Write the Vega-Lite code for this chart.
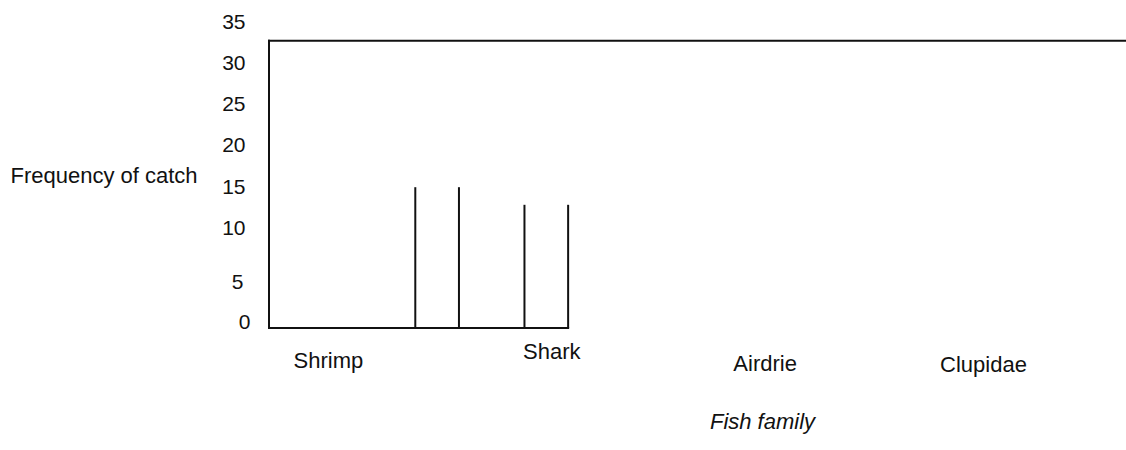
{
  "$schema": "https://vega.github.io/schema/vega-lite/v6.json",
  "width": 857,
  "height": 308,
  "autosize": {"type": "none"},
  "padding": {"left": 269, "top": 20, "right": 0, "bottom": 122},
  "background": "white",
  "config": {"view": {"stroke": null}, "font": "Liberation Sans"},
  "datasets": {
    "bars": [
      {"family": "Shrimp", "left": 1.4, "right": 1.6, "frequency": 16},
      {"family": "Shark", "left": 1.9, "right": 2.1, "frequency": 14}
    ],
    "one": [{}]
  },
  "layer": [
    {
      "data": {"name": "bars"},
      "mark": {"type": "rule", "strokeWidth": 2, "color": "#111111"},
      "encoding": {
        "x": {
          "field": "left", "type": "quantitative",
          "scale": {"domain": [0.73, 4.655], "nice": false, "zero": false},
          "axis": {
            "values": [1, 2, 3, 4],
            "labelExpr": "['','Shrimp','Shark','Airdrie','Clupidae'][datum.value]",
            "domain": false, "ticks": false, "grid": false,
            "labelFont": "Liberation Sans", "labelFontSize": 22, "labelColor": "#111111",
            "labelBaseline": "alphabetic", "labelFlush": false, "labelOverlap": false, "labelBound": false,
            "labelPadding": {"condition": [
              {"test": "datum.value === 2", "value": 30},
              {"test": "datum.value === 3", "value": 42},
              {"test": "datum.value === 4", "value": 43.5}
            ], "value": 39.5},
            "labelOffset": {"condition": {"test": "datum.value === 2", "value": 5}, "value": 0},
            "title": "Fish family",
            "titleFont": "Liberation Sans", "titleFontStyle": "italic", "titleFontWeight": "normal",
            "titleFontSize": 22, "titleColor": "#111111",
            "titleX": 493, "titleY": 100, "titleAlign": "center", "titleBaseline": "alphabetic"
          }
        },
        "y": {
          "field": "frequency", "type": "quantitative",
          "scale": {"domain": [0, 35], "nice": false, "zero": true},
          "axis": {
            "values": [0, 5, 10, 15, 20, 25, 30, 35],
            "domain": false, "ticks": false, "grid": false,
            "labelFont": "Liberation Sans", "labelFontSize": 21, "labelColor": "#111111",
            "labelBaseline": "middle", "labelAlign": "right", "labelFlush": false, "labelOverlap": false, "labelBound": false,
            "labelPadding": {"condition": [
              {"test": "datum.value === 0", "value": 19},
              {"test": "datum.value === 5", "value": 26}
            ], "value": 24},
            "labelOffset": {"condition": [
              {"test": "datum.value === 35", "value": 2.5},
              {"test": "datum.value === 30", "value": -1},
              {"test": "datum.value === 25", "value": -4},
              {"test": "datum.value === 20", "value": -6.5},
              {"test": "datum.value === 15", "value": -9},
              {"test": "datum.value === 10", "value": -12},
              {"test": "datum.value === 5", "value": -2},
              {"test": "datum.value === 0", "value": -5.5}
            ], "value": 0},
            "title": "Frequency of catch",
            "titleFont": "Liberation Sans", "titleFontWeight": "normal", "titleFontSize": 22, "titleColor": "#111111",
            "titleAngle": 0, "titleAlign": "left", "titleBaseline": "middle",
            "titleX": -259, "titleY": 155
          }
        },
        "y2": {"datum": 0}
      }
    },
    {
      "data": {"name": "bars"},
      "mark": {"type": "rule", "strokeWidth": 2, "color": "#111111"},
      "encoding": {
        "x": {"field": "right", "type": "quantitative"},
        "y": {"field": "frequency", "type": "quantitative"},
        "y2": {"datum": 0}
      }
    },
    {
      "data": {"name": "one"},
      "mark": {"type": "rule", "strokeWidth": 2, "color": "#111111", "strokeCap": "square"},
      "encoding": {
        "x": {"datum": 0.73, "type": "quantitative"},
        "y": {"datum": 0, "type": "quantitative"},
        "y2": {"datum": 32.65}
      }
    },
    {
      "data": {"name": "one"},
      "mark": {"type": "rule", "strokeWidth": 2, "color": "#111111", "strokeCap": "square"},
      "encoding": {
        "x": {"datum": 0.73, "type": "quantitative"},
        "x2": {"datum": 4.655},
        "y": {"datum": 32.65, "type": "quantitative"}
      }
    },
    {
      "data": {"name": "one"},
      "mark": {"type": "rule", "strokeWidth": 2, "color": "#111111", "strokeCap": "square"},
      "encoding": {
        "x": {"datum": 0.73, "type": "quantitative"},
        "x2": {"datum": 2.1},
        "y": {"datum": 0, "type": "quantitative"}
      }
    }
  ]
}
